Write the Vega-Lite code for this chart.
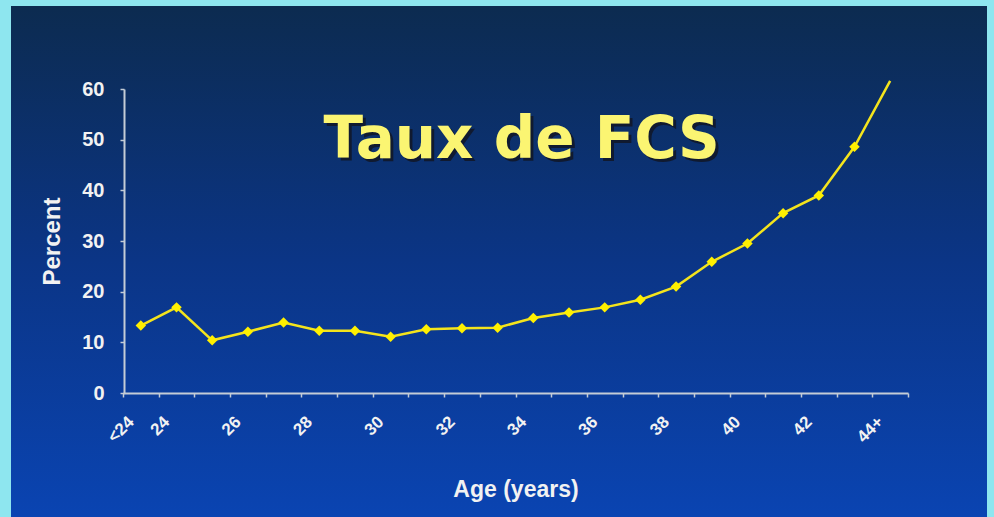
{
  "$schema": "https://vega.github.io/schema/vega-lite/v6.json",
  "width": 976,
  "height": 511,
  "autosize": {"type": "none"},
  "padding": {"left": 11, "top": 6, "right": 7, "bottom": 0},
  "background": "#8ee6ef",
  "config": {
    "view": {
      "stroke": null,
      "fill": {
        "gradient": "linear",
        "x1": 0, "y1": 0, "x2": 0, "y2": 1,
        "stops": [
          {"offset": 0, "color": "#0c2b50"},
          {"offset": 0.5, "color": "#0b3586"},
          {"offset": 1, "color": "#0a44b2"}
        ]
      }
    },
    "axis": {
      "grid": false,
      "domainColor": "#c4ccd6",
      "domainWidth": 2,
      "tickColor": "#c4ccd6",
      "tickWidth": 1.5,
      "labelColor": "#f2f2f2",
      "labelFont": "Liberation Sans",
      "labelFontWeight": "bold",
      "titleColor": "#f2f2f2",
      "titleFont": "Liberation Sans",
      "titleFontWeight": "bold"
    }
  },
  "data": {
    "values": [
      {"age": "<24", "pct": 13.3},
      {"age": "24", "pct": 16.9},
      {"age": "25", "pct": 10.4},
      {"age": "26", "pct": 12.1},
      {"age": "27", "pct": 13.9},
      {"age": "28", "pct": 12.3},
      {"age": "29", "pct": 12.3},
      {"age": "30", "pct": 11.1},
      {"age": "31", "pct": 12.6},
      {"age": "32", "pct": 12.8},
      {"age": "33", "pct": 12.9},
      {"age": "34", "pct": 14.8},
      {"age": "35", "pct": 15.9},
      {"age": "36", "pct": 16.9},
      {"age": "37", "pct": 18.4},
      {"age": "38", "pct": 21.0},
      {"age": "39", "pct": 25.9},
      {"age": "40", "pct": 29.5},
      {"age": "41", "pct": 35.5},
      {"age": "42", "pct": 39.0},
      {"age": "43", "pct": 48.6},
      {"age": "44+", "pct": 61.6}
    ]
  },
  "encoding": {
    "x": {
      "field": "age",
      "type": "ordinal",
      "sort": null,
      "scale": {"range": [112, 897], "paddingInner": 0, "paddingOuter": 0},
      "axis": {
        "title": "Age (years)",
        "titleFontSize": 23,
        "titlePadding": 33,
        "offset": -124,
        "tickBand": "extent",
        "tickSize": 4,
        "labelAngle": -45,
        "labelAlign": "right",
        "labelBaseline": "middle",
        "labelFontSize": 17,
        "labelPadding": 22,
        "labelOffset": -10,
        "labelExpr": "indexof(['<24','24','26','28','30','32','34','36','38','40','42','44+'], datum.value) >= 0 ? datum.value : ''"
      }
    },
    "y": {
      "field": "pct",
      "type": "quantitative",
      "scale": {"domain": [0, 60], "range": [387, 83], "nice": false, "zero": true},
      "axis": {
        "title": "Percent",
        "titleFontSize": 24,
        "titlePadding": 17,
        "offset": -113,
        "values": [0, 10, 20, 30, 40, 50, 60],
        "tickSize": 4,
        "labelFontSize": 20,
        "labelPadding": 16
      }
    }
  },
  "layer": [
    {
      "mark": {"type": "line", "color": "#f4e41c", "strokeWidth": 2.5}
    },
    {
      "transform": [{"filter": "datum.age != '44+'"}],
      "mark": {"type": "point", "shape": "diamond", "filled": true, "color": "#fff000", "size": 110, "opacity": 1}
    },
    {
      "transform": [{"filter": "datum.age == '33'"}],
      "mark": {"type": "text", "font": "DejaVu Sans", "fontWeight": "bold", "fontSize": 58, "color": "#101a30", "align": "center", "baseline": "alphabetic", "dx": 27, "dy": 3},
      "encoding": {
        "y": {"datum": 46.4},
        "text": {"value": "Taux de FCS"}
      }
    },
    {
      "transform": [{"filter": "datum.age == '33'"}],
      "mark": {"type": "text", "font": "DejaVu Sans", "fontWeight": "bold", "fontSize": 58, "color": "#fbf572", "align": "center", "baseline": "alphabetic", "dx": 24},
      "encoding": {
        "y": {"datum": 46.4},
        "text": {"value": "Taux de FCS"}
      }
    }
  ]
}
